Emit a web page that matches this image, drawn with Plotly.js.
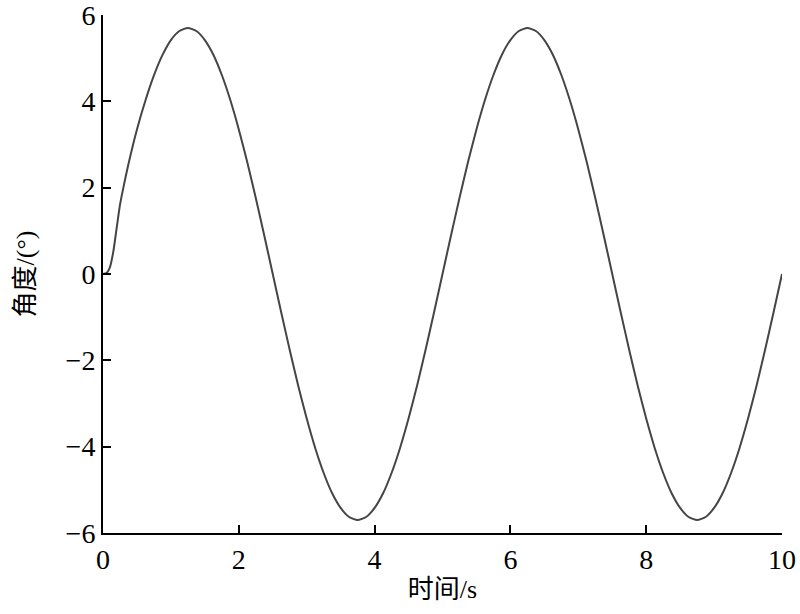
<!DOCTYPE html>
<html>
<head>
<meta charset="utf-8">
<script src="https://cdn.plot.ly/plotly-3.0.1.min.js"></script>
<style>
  html, body { margin: 0; padding: 0; background: #fff; }
  #chart { width: 800px; height: 614px; }
</style>
</head>
<body>
<div id="chart"></div>
<script>
// time (s) and angle (deg)
const time = [
  0, 0.05, 0.1, 0.15, 0.2, 0.25, 0.3, 0.375, 0.5, 0.625, 0.75, 0.875,
  1.0, 1.125, 1.25, 1.375, 1.5, 1.625, 1.75, 1.875, 2.0, 2.125, 2.25, 2.375,
  2.5, 2.625, 2.75, 2.875, 3.0, 3.125, 3.25, 3.375, 3.5, 3.625, 3.75, 3.875,
  4.0, 4.125, 4.25, 4.375, 4.5, 4.625, 4.75, 4.875, 5.0, 5.125, 5.25, 5.375,
  5.5, 5.625, 5.75, 5.875, 6.0, 6.125, 6.25, 6.375, 6.5, 6.625, 6.75, 6.875,
  7.0, 7.125, 7.25, 7.375, 7.5, 7.625, 7.75, 7.875, 8.0, 8.125, 8.25, 8.375,
  8.5, 8.625, 8.75, 8.875, 9.0, 9.125, 9.25, 9.375, 9.5, 9.625, 9.75, 9.875, 10.0
];
const angle = [
  0, 0.02, 0.15, 0.5, 1.05, 1.6, 2.0, 2.55, 3.35, 4.02, 4.6, 5.07,
  5.42, 5.63, 5.70, 5.63, 5.42, 5.08, 4.61, 4.03, 3.35, 2.59, 1.76, 0.89,
  0, -0.89, -1.76, -2.59, -3.35, -4.03, -4.61, -5.08, -5.42, -5.63, -5.70, -5.63,
  -5.42, -5.08, -4.61, -4.03, -3.35, -2.59, -1.76, -0.89, 0, 0.89, 1.76, 2.59,
  3.35, 4.03, 4.61, 5.08, 5.42, 5.63, 5.70, 5.63, 5.42, 5.08, 4.61, 4.03,
  3.35, 2.59, 1.76, 0.89, 0, -0.89, -1.76, -2.59, -3.35, -4.03, -4.61, -5.08,
  -5.42, -5.63, -5.70, -5.63, -5.42, -5.08, -4.61, -4.03, -3.35, -2.59, -1.76, -0.89, 0
];
const xTicks = [0, 2, 4, 6, 8, 10];
const yTicks = [-6, -4, -2, 0, 2, 4, 6];

const trace = {
  x: time,
  y: angle,
  type: 'scatter',
  mode: 'lines',
  line: { color: '#454545', width: 2, shape: 'spline', smoothing: 0.6 },
  hoverinfo: 'skip'
};

const serif = '"Liberation Serif", "Times New Roman", "Noto Sans CJK SC", serif';

const axisBase = {
  showline: true,
  linecolor: '#000',
  linewidth: 2,
  mirror: false,
  showgrid: false,
  zeroline: false,
  ticks: 'inside',
  ticklen: 8,
  tickwidth: 2,
  tickcolor: '#000',
  tickfont: { family: serif, size: 28, color: '#000' },
  ticklabeloverflow: 'allow',
  automargin: false
};

const layout = {
  width: 800,
  height: 614,
  margin: { l: 103, r: 18, t: 15, b: 81 },
  paper_bgcolor: '#fff',
  plot_bgcolor: '#fff',
  showlegend: false,
  xaxis: Object.assign({}, axisBase, {
    range: [0, 10],
    tickvals: xTicks,
    ticktext: xTicks.map(String),
    title: { text: '时间/s', font: { family: serif, size: 26, color: '#000' }, standoff: 6 }
  }),
  yaxis: Object.assign({}, axisBase, {
    range: [-6, 6],
    tickvals: yTicks,
    ticktext: yTicks.map(v => (v < 0 ? '\u2212' + Math.abs(v) : String(v))),
    title: { text: '角度/(°)', font: { family: serif, size: 26, color: '#000' }, standoff: 24 }
  })
};

Plotly.newPlot('chart', [trace], layout, { staticPlot: true, displayModeBar: false });
</script>
</body>
</html>
